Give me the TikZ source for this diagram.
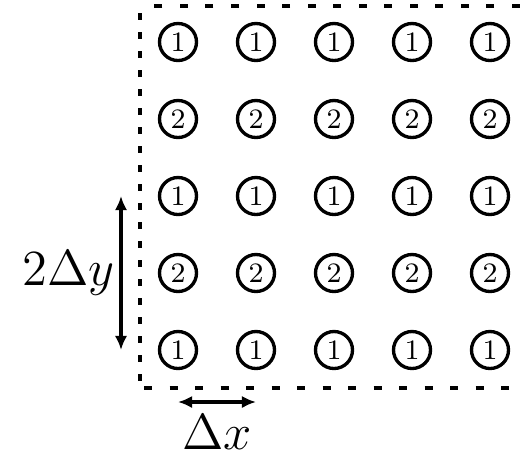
\documentclass[tikz,border=0pt]{standalone}
\usepackage{tikz}
\usetikzlibrary{arrows.meta, positioning}

\begin{document}
\begin{tikzpicture}[
  cell/.style={circle, draw, line width=0.95pt, minimum size=0.37cm,
               inner sep=0pt, font=\fontsize{8}{8}\selectfont},
  dimarr/.style={{Latex[length=4pt,width=3.5pt]}-{Latex[length=4pt,width=3.5pt]}, line width=0.9pt},
  frameh/.style={line width=0.9pt, dash pattern=on 0.08cm off 0.175cm},
  framev/.style={line width=0.9pt, dash pattern=on 0.065cm off 0.125cm},
  lbl/.style={font=\Large, inner sep=0pt}
]
\useasboundingbox (0,0) rectangle (5.2,4.55);
\clip (0,0) rectangle (5.2,4.55);

% Frame
\draw[frameh] (5.45,4.49) -- (1.40,4.49);
\draw[framev] (1.40,4.42) -- (1.40,0.74);
\draw[frameh] (1.44,0.67) -- (5.45,0.67);

% Grid of cells
\foreach \i in {0,...,4}
  \foreach \j in {0,...,4} {
    \pgfmathtruncatemacro{\k}{mod(\j,2)+1}
    \node[cell] (c-\i-\j) at (1.78+0.78*\i, 4.13-0.77*\j) {\k};
  }

% Spacings
\coordinate (dimx) at (1.21,0);
\coordinate (dimy) at (0,0.53);
\draw[dimarr] (c-0-2.center -| dimx) -- (c-0-4.center -| dimx)
  node[lbl, midway, left=0.05cm] (dy) {$2\Delta y$};
\draw[dimarr] (c-0-4.center |- dimy) -- (c-1-4.center |- dimy)
  node[lbl, midway, below=0.11cm] (dx) {$\Delta x$};

\end{tikzpicture}
\end{document}
